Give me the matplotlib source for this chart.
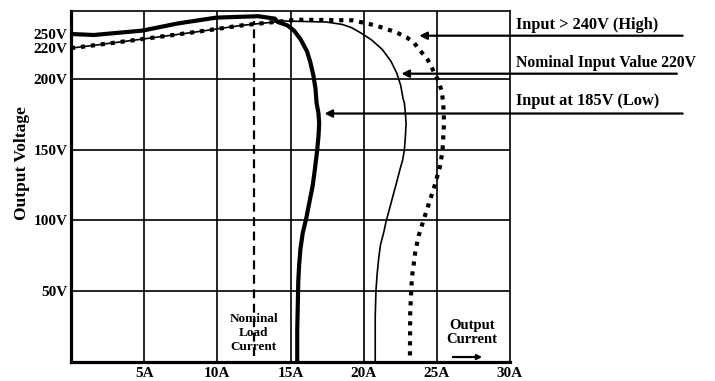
import matplotlib
matplotlib.use("Agg")
import matplotlib.pyplot as plt

plt.rcParams['font.family'] = ['Liberation Serif', 'DejaVu Serif']
plt.rcParams['font.weight'] = 'bold'

# Output current (A) / output voltage (V) for three input voltages
low_185_current = [0, 1.56, 4.88, 7.31, 9.93, 12.8, 13.93, 14.13, 14.79, 15.24, 15.68, 16.12,
                   16.34, 16.56, 16.71, 16.78, 16.91, 16.96, 16.91, 16.82, 16.66, 16.51, 16.29,
                   16.07, 15.84, 15.68, 15.59, 15.53, 15.51, 15.46, 15.46]
low_185_voltage = [232, 231.3, 234.4, 239.5, 243.6, 244.6, 242.9, 240.5, 238.1, 234.4, 228.4, 219.9,
                   212.6, 202.9, 193.2, 183.3, 176.0, 168.9, 159.2, 149.5, 135.7, 124.3, 112.8,
                   101.2, 91.4, 79.9, 68.4, 56.5, 45.8, 22.3, 0]

nominal_220_current = [0, 1.58, 4.88, 8.36, 11.67, 13.91, 14.58, 17.43, 18.53, 19.19, 19.85, 20.55,
                       21.27, 21.87, 22.27, 22.53, 22.7, 22.78, 22.85, 22.9, 22.85, 22.78, 22.66,
                       22.47, 22.24, 22.0, 21.76, 21.52, 21.38, 21.15, 21.03, 20.92, 20.84, 20.79,
                       20.79]
nominal_220_voltage = [222, 224.0, 228.4, 233.2, 238.1, 240.5, 241.2, 240.5, 238.8, 236.4, 232.5, 227.7,
                       221.1, 212.6, 204.1, 195.6, 185.9, 183.3, 176.0, 168.8, 159.2, 149.6, 142.6,
                       135.7, 126.5, 117.3, 108.0, 98.8, 91.9, 82.7, 73.5, 62.0, 50.5, 31.7,
                       0]

high_240_current = [0, 1.58, 4.88, 8.36, 11.67, 13.91, 15.46, 19.24, 20.07, 20.79, 21.51, 22.22,
                    22.94, 23.42, 23.89, 24.37, 24.73, 25.09, 25.32, 25.44, 25.49, 25.39, 25.21,
                    24.84, 24.48, 24.12, 23.76, 23.53, 23.42, 23.3, 23.25, 23.18, 23.16]
high_240_voltage = [222, 224.0, 228.4, 233.2, 238.1, 240.5, 242.1, 241.7, 239.8, 238.1, 235.7, 233.2,
                    229.6, 226.0, 219.9, 213.9, 206.6, 199.3, 192.0, 183.5, 168.9, 149.5, 138.0,
                    124.2, 112.7, 101.1, 89.3, 78.1, 68.9, 59.9, 50.5, 34.1, 0]

nominal_load_current = 12.5

x_ticks = [5, 10, 15, 20, 25, 30]
x_tick_labels = ['5A', '10A', '15A', '20A', '25A', '30A']
y_grid = [50, 100, 150, 200]
y_ticks = [50, 100, 150, 200, high_240_voltage[0], low_185_voltage[0]]
y_tick_labels = ['50V', '100V', '150V', '200V', '220V', '250V']

curve_labels = ['Input > 240V (High)', 'Nominal Input Value 220V', 'Input at 185V (Low)']
label_sizes = [11.8, 11.3, 11.8]
label_tips = [(23.8, 230.8), (22.58, 203.9), (17.32, 175.7)]

fig = plt.figure(figsize=(7.15, 3.81), dpi=100)
W, H = 715, 381
ax = fig.add_axes([71 / W, (H - 361.7) / H, (510 - 71) / W, (361.7 - 10.7) / H])
ax.set_xlim(0, 30)
ax.set_ylim(0, 248.5)

# grid
for xv in x_ticks[:-1]:
    ax.axvline(xv, color='black', lw=1.2, zorder=1)
for yv in y_grid:
    ax.axhline(yv, color='black', lw=1.2, zorder=1)

# curves
ax.plot(nominal_220_current, nominal_220_voltage, color='black', lw=1.2, zorder=3)
ax.plot(high_240_current, high_240_voltage, color='black', lw=3.0,
        linestyle=(0, (1, 1.4)), dash_capstyle='butt', zorder=4)
ax.plot(low_185_current, low_185_voltage, color='black', lw=3.0, zorder=5,
        solid_capstyle='butt', solid_joinstyle='round')

# nominal load current marker
ax.plot([nominal_load_current, nominal_load_current], [4, 241], color='black', lw=1.6,
        linestyle=(0, (4, 2.5)), zorder=2)
ax.text(nominal_load_current, 20.4, 'Nominal\nLoad\nCurrent', ha='center', va='center',
        fontsize=9.5, fontweight='bold', linespacing=1.2, zorder=6)

ax.text(27.4, 20.5, 'Output\nCurrent', ha='center', va='center', fontsize=10.5,
        fontweight='bold', linespacing=1.15)
ax.annotate('', xy=(28.1, 3.3), xytext=(26.1, 3.3),
            arrowprops=dict(arrowstyle='-|>', color='black', lw=1.6,
                            mutation_scale=7, shrinkA=0, shrinkB=0))

# labelled arrows pointing to the curves
tail_x = [41.8, 41.4, 41.8]
text_y_offset = [7.8, 7.7, 8.7]
for lab, size, (tx, ty), x0, dy in zip(curve_labels, label_sizes, label_tips, tail_x, text_y_offset):
    ax.annotate('', xy=(tx, ty), xytext=(x0, ty), annotation_clip=False,
                arrowprops=dict(arrowstyle='-|>', color='black', lw=1.6,
                                mutation_scale=11, shrinkA=0, shrinkB=0))
    ax.text(30.4, ty + dy, lab, ha='left', va='center', fontsize=size,
            fontweight='bold', clip_on=False)

# axes frame and ticks
ax.set_xticks(x_ticks)
ax.set_xticklabels(x_tick_labels)
ax.set_yticks(y_ticks)
ax.set_yticklabels(y_tick_labels)
ax.tick_params(axis='both', length=0, labelsize=11)
ax.tick_params(axis='x', pad=4)
ax.tick_params(axis='y', pad=2.5)
for lbl in ax.get_xticklabels() + ax.get_yticklabels():
    lbl.set_fontweight('bold')
for side in ['left', 'bottom']:
    ax.spines[side].set_linewidth(2.3)
for side in ['top', 'right']:
    ax.spines[side].set_linewidth(1.2)

fig.text(22 / W, 1 - 163 / H, 'Output Voltage', rotation=90, ha='center', va='center',
         fontsize=12.5, fontweight='bold')

fig.savefig('out.png', dpi=100, facecolor='white')
